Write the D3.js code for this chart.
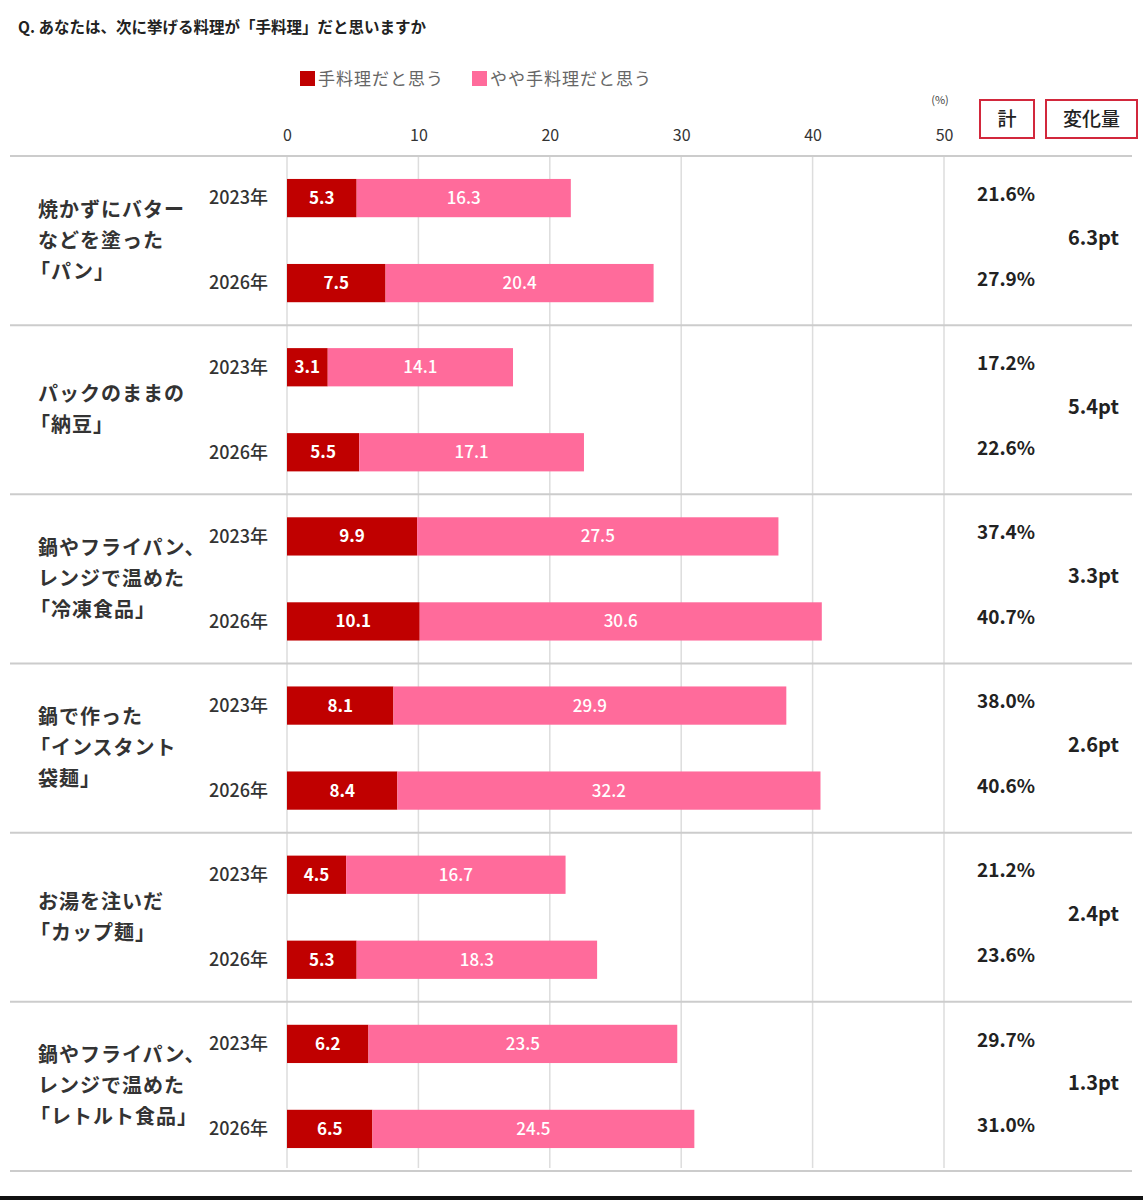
<!DOCTYPE html>
<html>
<head>
<meta charset="utf-8">
<script src="https://cdn.jsdelivr.net/npm/d3@7"></script>
<style>
  body { margin: 0; background: #fff; }
  svg { display: block; font-family: "Noto Sans CJK JP", "Noto Sans", sans-serif; }
</style>
</head>
<body>
<div id="chart"></div>
<script>
// data
let categories = [
    ["焼かずにバター", "などを塗った", "「パン」"],
    ["パックのままの", "「納豆」"],
    ["鍋やフライパン、", "レンジで温めた", "「冷凍食品」"],
    ["鍋で作った", "「インスタント", "袋麺」"],
    ["お湯を注いだ", "「カップ麺」"],
    ["鍋やフライパン、", "レンジで温めた", "「レトルト食品」"]
];
let years = ["2023年", "2026年"];
let strongly = [[5.3, 7.5], [3.1, 5.5], [9.9, 10.1], [8.1, 8.4], [4.5, 5.3], [6.2, 6.5]];
let somewhat = [[16.3, 20.4], [14.1, 17.1], [27.5, 30.6], [29.9, 32.2], [16.7, 18.3], [23.5, 24.5]];
let totals = [[21.6, 27.9], [17.2, 22.6], [37.4, 40.7], [38.0, 40.6], [21.2, 23.6], [29.7, 31.0]];
let changes = [6.3, 5.4, 3.3, 2.6, 2.4, 1.3];
let xTicks = [0, 10, 20, 30, 40, 50];
let legendLabels = ["手料理だと思う", "やや手料理だと思う"];

let width = 1143, height = 1200;
let colors = ["#c00000", "#ff6b9b"];

let svg = d3.select('#chart').append('svg')
    .attr('width', width)
    .attr('height', height);

let x = d3.scaleLinear().domain([0, 50]).range([287, 944]);

let group = d3.scaleBand()
    .domain(d3.range(categories.length))
    .range([156, 1171]);

let row = d3.scaleBand()
    .domain(years)
    .range([0, group.bandwidth()])
    .paddingInner(0.55)
    .paddingOuter(0.27);

// title
svg.append('text')
    .attr('x', 18).attr('y', 33)
    .style('font-size', '15.5px')
    .style('font-weight', 700)
    .style('fill', '#222')
    .text('Q. あなたは、次に挙げる料理が「手料理」だと思いますか');

// legend
let legend = svg.append('g').selectAll('g')
    .data(legendLabels)
    .enter().append('g')
    .attr('transform', function(d, i) { return 'translate(' + [300, 472][i] + ',71)'; });
legend.append('rect')
    .attr('width', 15).attr('height', 15)
    .style('fill', function(d, i) { return colors[i]; });
legend.append('text')
    .attr('x', 18).attr('y', 8)
    .attr('dy', '0.35em')
    .style('font-size', '17px')
    .style('letter-spacing', '1px')
    .style('fill', '#666')
    .text(function(d) { return d; });

// top axis
let axis = svg.append('g')
    .attr('transform', 'translate(0,141)')
    .call(d3.axisTop(x).tickValues(xTicks).tickSize(0).tickPadding(0));
axis.select('.domain').remove();
axis.selectAll('text')
    .style('font-family', '"Noto Sans CJK JP", sans-serif')
    .style('font-size', '16px')
    .style('fill', '#333');

svg.append('text')
    .attr('x', 940).attr('y', 104)
    .attr('text-anchor', 'middle')
    .style('font-size', '11px')
    .style('fill', '#444')
    .text('(%)');

// header boxes
let heads = [{ t: '計', x: 980, w: 54 }, { t: '変化量', x: 1046, w: 91 }];
let head = svg.append('g').selectAll('g')
    .data(heads)
    .enter().append('g');
head.append('rect')
    .attr('x', function(d) { return d.x; })
    .attr('y', 100)
    .attr('width', function(d) { return d.w; })
    .attr('height', 38)
    .style('fill', 'none')
    .style('stroke', '#d2283c')
    .style('stroke-width', 2);
head.append('text')
    .attr('x', function(d) { return d.x + d.w / 2; })
    .attr('y', 119)
    .attr('dy', '0.35em')
    .attr('text-anchor', 'middle')
    .style('font-size', '19px')
    .style('font-weight', 500)
    .style('fill', '#222')
    .text(function(d) { return d.t; });

// gridlines
svg.append('g').selectAll('line')
    .data(xTicks)
    .enter().append('line')
    .attr('x1', function(d) { return x(d); })
    .attr('x2', function(d) { return x(d); })
    .attr('y1', 156).attr('y2', 1168)
    .style('stroke', '#ddd')
    .style('stroke-width', 1.5);

// separators
let seps = d3.range(categories.length + 1).map(function(i) {
    return i < categories.length ? group(i) : group(i - 1) + group.bandwidth();
});
svg.append('g').selectAll('line')
    .data(seps)
    .enter().append('line')
    .attr('x1', 10).attr('x2', 1132)
    .attr('y1', function(d) { return d; })
    .attr('y2', function(d) { return d; })
    .style('stroke', '#ccc')
    .style('stroke-width', 2);

// groups
let groups = svg.append('g').selectAll('g.grp')
    .data(categories)
    .enter().append('g')
    .classed('grp', true)
    .attr('transform', function(d, i) { return 'translate(0,' + group(i) + ')'; });

groups.each(function(lines, gi) {
    let g = d3.select(this);
    let mid = group.bandwidth() / 2;

    // category label
    g.append('text')
        .style('font-size', '20px')
        .style('font-weight', 700)
        .style('letter-spacing', '1px')
        .style('fill', '#333')
        .selectAll('tspan')
        .data(lines)
        .enter().append('tspan')
        .attr('x', function(d) { return d.charAt(0) == '「' ? 30 : 38; })
        .attr('y', function(d, i) { return mid + (i - (lines.length - 1) / 2) * 31; })
        .attr('dy', '0.35em')
        .text(function(d) { return d; });

    years.forEach(function(yr, yi) {
        let cy = row(yr) + row.bandwidth() / 2;
        let segs = [
            { v: strongly[gi][yi], x0: 0, c: colors[0], w: 700 },
            { v: somewhat[gi][yi], x0: strongly[gi][yi], c: colors[1], w: 500 }
        ];

        g.append('text')
            .attr('x', 268).attr('y', cy)
            .attr('dy', '0.35em')
            .attr('text-anchor', 'end')
            .style('font-size', '18px')
            .style('font-weight', 500)
            .style('fill', '#333')
            .text(yr);

        let seg = g.selectAll('.seg' + yi)
            .data(segs)
            .enter().append('g')
            .classed('seg' + yi, true);
        seg.append('rect')
            .attr('x', function(d) { return x(d.x0); })
            .attr('y', row(yr))
            .attr('width', function(d) { return x(d.x0 + d.v) - x(d.x0); })
            .attr('height', row.bandwidth())
            .style('fill', function(d) { return d.c; });
        seg.append('text')
            .attr('x', function(d) { return x(d.x0 + d.v / 2); })
            .attr('y', cy)
            .attr('dy', '0.35em')
            .attr('text-anchor', 'middle')
            .style('font-size', '17px')
            .style('font-weight', function(d) { return d.w; })
            .style('fill', '#fff')
            .text(function(d) { return d.v.toFixed(1); });

        g.append('text')
            .attr('x', 977).attr('y', cy - 4)
            .attr('dy', '0.35em')
            .style('font-size', '19px')
            .style('font-weight', 600)
            .style('fill', '#222')
            .text(totals[gi][yi].toFixed(1) + '%');
    });

    g.append('text')
        .attr('x', 1068).attr('y', mid - 3)
        .attr('dy', '0.35em')
        .style('font-size', '20px')
        .style('font-weight', 700)
        .style('fill', '#222')
        .text(changes[gi].toFixed(1) + 'pt');
});

// bottom rule
svg.append('rect')
    .attr('x', 0).attr('y', 1196)
    .attr('width', width).attr('height', 4)
    .style('fill', '#111');
</script>
</body>
</html>
